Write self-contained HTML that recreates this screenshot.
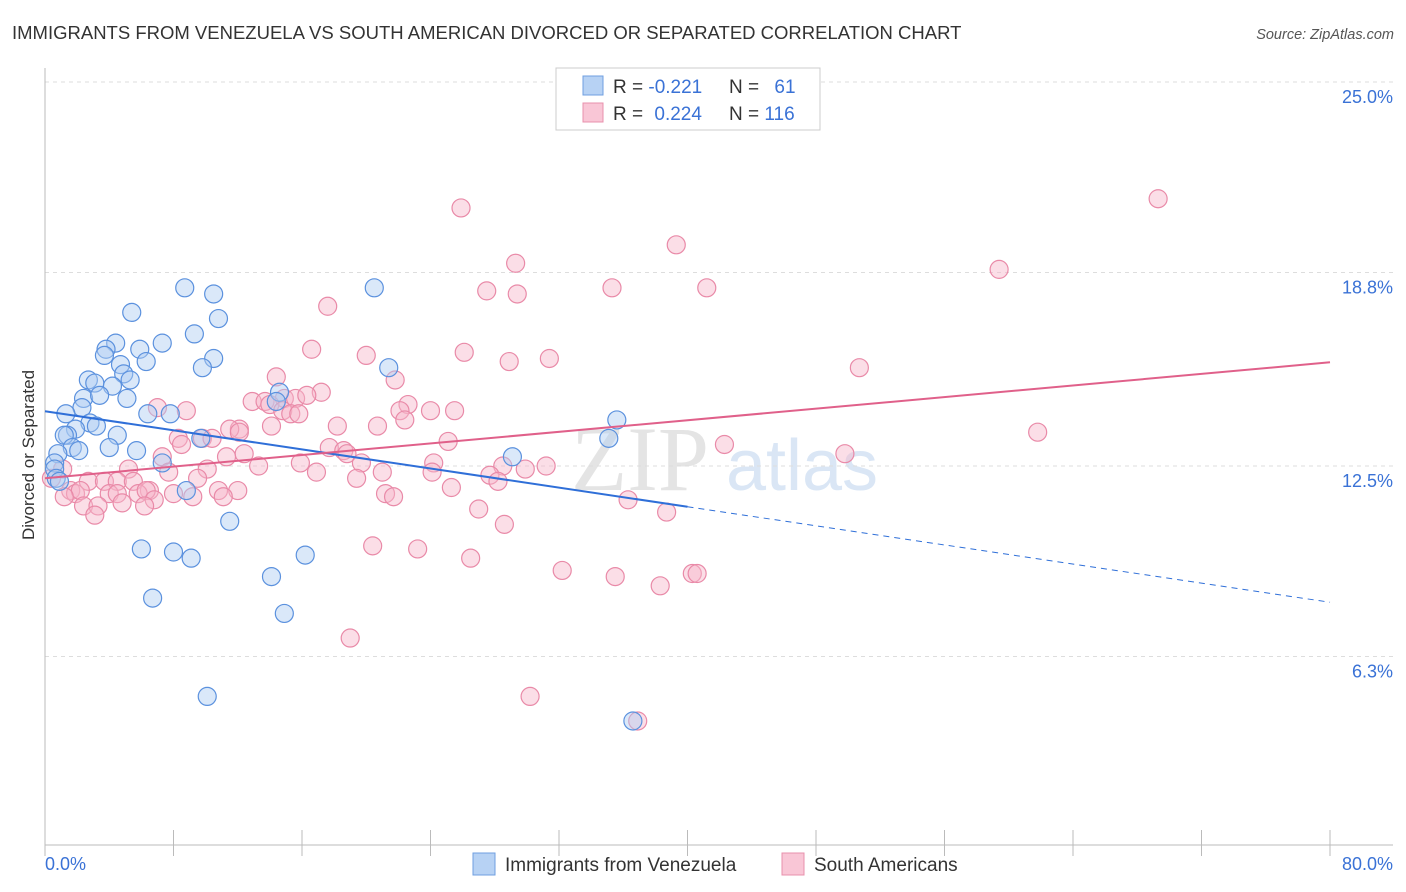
<!DOCTYPE html>
<html><head><meta charset="utf-8"><style>
body{margin:0;background:#fff;font-family:"Liberation Sans",sans-serif;}
svg{display:block}
</style></head><body>
<svg id="chart" width="1406" height="892" xmlns="http://www.w3.org/2000/svg">
<text x="12" y="39" font-size="18.5" fill="#333">IMMIGRANTS FROM VENEZUELA VS SOUTH AMERICAN DIVORCED OR SEPARATED CORRELATION CHART</text>
<text x="1394" y="39" font-size="14.5" fill="#555" text-anchor="end" font-style="italic">Source: ZipAtlas.com</text>
<text transform="translate(34,455) rotate(-90)" font-size="17" fill="#333" text-anchor="middle">Divorced or Separated</text>
<g opacity="0.9">
<text x="640" y="490" font-size="92" fill="#e2e2e2" text-anchor="middle" font-family="Liberation Serif,serif">ZIP</text>
<text x="802" y="490" font-size="72" fill="#d6e4f5" text-anchor="middle">atlas</text>
</g>
<g id="grid"></g>
<g id="axes"></g>
<g id="pts"></g>
<g id="lines"></g>
<g>
<rect x="556" y="68" width="264" height="62" fill="#fff" stroke="#ccc"/>
<rect x="583" y="76" width="20" height="19" fill="#b7d2f4" stroke="#6f9fe0"/>
<rect x="583" y="103" width="20" height="19" fill="#f9c6d6" stroke="#e890ac"/>
<text x="613" y="93" font-size="19" fill="#333">R = <tspan fill="#3a72d6">-0.221</tspan></text>
<text x="729" y="93" font-size="19" fill="#333">N = <tspan fill="#3a72d6" dx="10">61</tspan></text>
<text x="613" y="120" font-size="19" fill="#333">R = <tspan fill="#3a72d6" dx="6">0.224</tspan></text>
<text x="729" y="120" font-size="19" fill="#333">N = <tspan fill="#3a72d6">116</tspan></text>
</g>
<g>
<rect x="473" y="853" width="22" height="22" fill="#b7d2f4" stroke="#6f9fe0"/>
<text x="505" y="871" font-size="19" fill="#333">Immigrants from Venezuela</text>
<rect x="782" y="853" width="22" height="22" fill="#f9c6d6" stroke="#e890ac"/>
<text x="814" y="871" font-size="19" fill="#333">South Americans</text>
</g>
</svg>
<script>
const yTicks=[25.0,18.8,12.5,6.3];
const yTickLabels=["25.0%","18.8%","12.5%","6.3%"];
const xEndLabels=["0.0%","80.0%"];
const blueX=[8.7,10.5,5.4,10.8,9.3,4.4,7.3,3.8,5.9,3.7,6.3,10.5,4.7,9.8,4.9,2.7,5.3,3.1,4.2,2.4,3.4,5.1,2.3,6.4,7.8,1.3,2.8,3.2,1.9,1.4,1.2,4.5,9.7,1.7,4.0,5.7,2.1,0.8,7.3,0.6,0.6,0.7,0.9,8.8,11.5,6.0,8.0,9.1,16.2,14.1,6.7,14.9,10.1,20.5,21.4,14.6,14.4,35.6,35.1,29.1,36.6];
const blueY=[18.3,18.1,17.5,17.3,16.8,16.5,16.5,16.3,16.3,16.1,15.9,16.0,15.8,15.7,15.5,15.3,15.3,15.2,15.1,14.7,14.8,14.7,14.4,14.2,14.2,14.2,13.9,13.8,13.7,13.5,13.5,13.5,13.4,13.1,13.1,13.0,13.0,12.9,12.6,12.6,12.4,12.1,12.0,11.7,10.7,9.8,9.7,9.5,9.6,8.9,8.2,7.7,5.0,18.3,15.7,14.9,14.6,14.0,13.4,12.8,4.2];
const pinkX=[25.9,69.3,39.3,29.3,59.4,27.5,29.4,35.3,41.2,17.6,16.6,20.0,26.1,28.9,31.4,50.7,21.8,14.4,17.2,12.9,13.7,14.9,15.6,16.3,14.0,14.8,15.3,15.8,8.8,7.0,22.6,24.0,25.5,22.1,22.4,20.7,14.1,12.1,11.5,18.2,8.3,9.8,10.4,12.1,8.5,25.1,42.3,61.8,17.7,18.6,18.8,12.4,7.3,11.3,13.3,15.9,19.7,24.2,10.1,5.2,7.7,16.9,21.0,24.1,31.2,29.9,28.5,27.7,28.2,1.1,2.7,3.7,4.5,5.5,6.5,9.5,19.4,0.4,1.6,1.9,2.2,4.0,4.5,5.8,6.3,8.0,9.2,10.8,12.0,11.1,21.2,21.7,25.3,1.2,2.4,3.3,4.8,6.8,6.2,27.0,36.3,38.7,3.1,28.6,20.4,23.2,26.5,32.2,35.5,38.3,40.3,40.6,19.0,30.2,36.9,49.8];
const pinkY=[20.9,21.2,19.7,19.1,18.9,18.2,18.1,18.3,18.3,17.7,16.3,16.1,16.2,15.9,16.0,15.7,15.3,15.4,14.9,14.6,14.6,14.7,14.7,14.8,14.5,14.3,14.2,14.2,14.3,14.4,14.5,14.3,14.3,14.3,14.0,13.8,13.8,13.7,13.7,13.8,13.4,13.4,13.4,13.6,13.2,13.3,13.2,13.6,13.1,13.0,12.9,12.9,12.8,12.8,12.5,12.6,12.6,12.6,12.4,12.4,12.3,12.3,12.3,12.3,12.5,12.4,12.5,12.2,12.0,12.4,12.0,12.0,12.0,12.0,11.7,12.1,12.1,12.1,11.7,11.6,11.7,11.6,11.6,11.6,11.7,11.6,11.5,11.7,11.7,11.5,11.6,11.5,11.8,11.5,11.2,11.2,11.3,11.4,11.2,11.1,11.4,11.0,10.9,10.6,9.9,9.8,9.5,9.1,8.9,8.6,9.0,9.0,6.9,5.0,4.2,12.9];
const NS="http://www.w3.org/2000/svg";
const X0=45,X1=1330,Y25=82,PXPER=30.72;
function sx(v){return X0+(v/80)*(X1-X0);}
function sy(v){return Y25+(25-v)*PXPER;}
function mk(tag,attrs,parent){const e=document.createElementNS(NS,tag);for(const k in attrs)e.setAttribute(k,attrs[k]);parent.appendChild(e);return e;}
const grid=document.getElementById('grid'),axes=document.getElementById('axes'),pts=document.getElementById('pts'),lines=document.getElementById('lines');
yTicks.forEach((t,i)=>{
 const l=mk('line',{x1:45,x2:1393,y1:sy(t),y2:sy(t),stroke:'#ddd','stroke-dasharray':'4,4'},grid);
 
 
 const tx=mk('text',{x:1393,y:sy(t)+21,'font-size':18,fill:'#3a72d6','text-anchor':'end'},axes);
 tx.textContent=yTickLabels[i];
 
 
});
const ya=mk('line',{x1:45,x2:45,y1:68,y2:845,stroke:'#bbb'},axes);


const xa=mk('line',{x1:45,x2:1393,y1:845,y2:845,stroke:'#bbb'},axes);


for(let v=0;v<=80;v+=8){
 const tk=mk('line',{x1:sx(v),x2:sx(v),y1:830,y2:856,stroke:'#bbb'},axes);
 
 
}
const xl0=mk('text',{x:45,y:870,'font-size':18,fill:'#3a72d6'},axes);xl0.textContent=xEndLabels[0];


const xl1=mk('text',{x:1393,y:870,'font-size':18,fill:'#3a72d6','text-anchor':'end'},axes);xl1.textContent=xEndLabels[1];


function drawPts(xs,ys,fill,stroke,name){
 xs.forEach((x,i)=>{
  const c=mk('circle',{cx:sx(x),cy:sy(ys[i]),r:9,fill:fill,'fill-opacity':0.45,stroke:stroke,'stroke-width':1.2},pts);
  
  
 });
}
drawPts(pinkX,pinkY,'#f7b6ca','#e98aa8','south-americans-point');
drawPts(blueX,blueY,'#aecbf1','#5b91de','venezuela-point');
function fit(xs,ys){const n=xs.length;let mx=0,my=0;for(let i=0;i<n;i++){mx+=xs[i];my+=ys[i];}mx/=n;my/=n;let sxy=0,sxx=0;for(let i=0;i<n;i++){sxy+=(xs[i]-mx)*(ys[i]-my);sxx+=(xs[i]-mx)**2;}const b=sxy/sxx;return [my-b*mx,b];}
const bf=fit(blueX,blueY),pf=fit(pinkX,pinkY);
const bmax=Math.max(40,Math.max(...blueX));
const b1=mk('line',{x1:sx(0),y1:sy(bf[0]),x2:sx(bmax),y2:sy(bf[0]+bf[1]*bmax),stroke:'#2f6fd8','stroke-width':2},lines);


const b2=mk('line',{x1:sx(bmax),y1:sy(bf[0]+bf[1]*bmax),x2:sx(80),y2:sy(bf[0]+bf[1]*80),stroke:'#2f6fd8','stroke-width':1,'stroke-dasharray':'6,5'},lines);


const p1=mk('line',{x1:sx(0),y1:sy(pf[0]),x2:sx(80),y2:sy(pf[0]+pf[1]*80),stroke:'#e0608a','stroke-width':2},lines);


</script>
</body></html>
